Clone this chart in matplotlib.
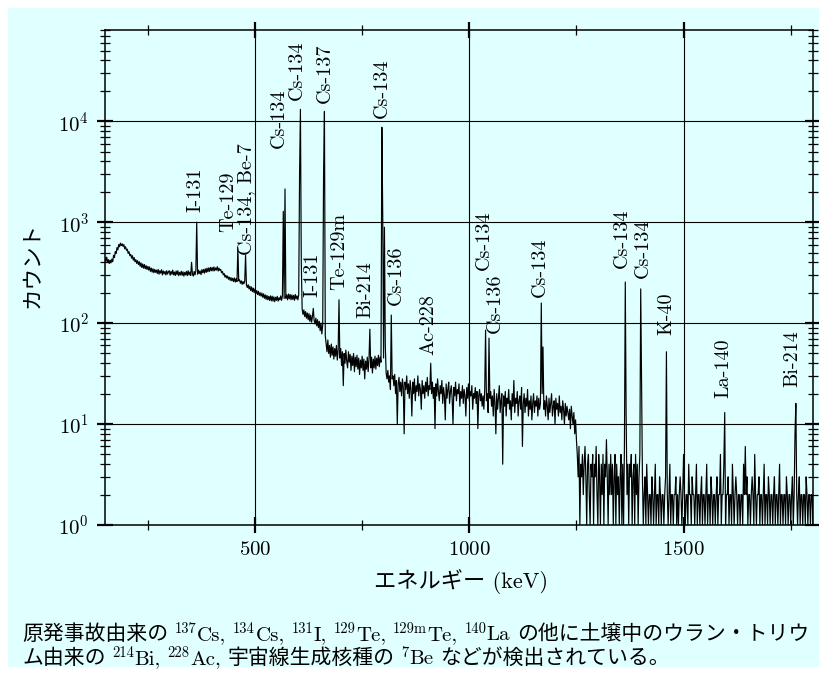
import numpy as np
import matplotlib
matplotlib.use('Agg')
import matplotlib.pyplot as plt
from matplotlib.patches import Rectangle
from matplotlib.ticker import FixedLocator, LogLocator, NullFormatter

plt.rcParams['mathtext.fontset'] = 'cm'
plt.rcParams['axes.formatter.use_mathtext'] = True
plt.rcParams['font.family'] = ['cmr10', 'Noto Sans CJK JP']
plt.rcParams['axes.unicode_minus'] = False

# ---------------- data (counts per 2 keV channel) ----
STEP_KEV = 2
counts_150 = [445, 410, 450, 400, 425, 390, 420, 395, 430, 405,
              470, 445, 510, 490, 560, 530, 600, 570, 620, 585,
              610, 575, 600, 545, 570, 525, 540, 490, 510, 465,
              480, 440, 465, 420, 445, 405, 425, 390, 415, 380,
              405, 365, 395, 355, 385, 350, 380, 345, 370, 340,
              365, 335, 360, 325, 350, 320, 345, 315, 340, 318,
              335, 310, 340, 305, 330, 312, 338, 300, 328, 308,
              325, 300, 330, 305, 322]
counts_300 = [330, 298, 325, 305, 335, 300, 320, 296, 328, 302,
              330, 295, 318, 300, 326, 297, 322, 292, 318, 300,
              325, 295, 330, 300, 320, 296, 400, 305, 292, 325,
              300, 330, 1000, 305, 335, 310, 328, 302, 338, 315,
              340, 312, 345, 318, 350, 322, 352, 325, 356, 330,
              355, 328, 360, 330, 352, 335, 362, 328, 350, 332,
              340, 315, 325, 300, 310, 285, 298, 280, 292, 272,
              285, 265, 282, 262, 278, 258, 280, 255, 275, 258,
              560, 262, 268, 248, 262, 242, 258, 245, 260, 470,
              238, 225, 240, 218, 232, 210, 228, 205, 222, 200,
              218, 196, 210, 192, 206, 188, 200, 185, 198, 180,
              195, 176, 190, 172, 188, 170, 184, 168, 186, 166,
              185, 165, 182, 163, 180, 168, 184, 165, 178, 170,
              186, 168, 185, 1280, 175, 2130, 176, 190, 170, 194,
              174, 192, 170, 190, 172, 188, 168, 192, 174, 186,
              170, 190, 3000]
counts_606 = [13100, 400, 138, 122, 135, 116, 130, 112, 126, 108,
              124, 104, 120, 102, 116, 140, 106, 98, 112, 94,
              108, 90, 104, 84, 100, 78, 96, 3000]
counts_662 = [12500, 75, 62, 52, 68, 50, 60, 46, 62, 48,
              58, 44, 56, 47, 60, 43, 54, 170, 45, 56,
              38, 52, 24, 50, 40, 54, 42, 36, 52, 41,
              49, 34, 47, 38, 50, 33, 46, 37, 48, 35,
              45, 31, 43, 36, 47, 34, 44, 28, 42, 35,
              46, 33, 44, 87, 36, 46, 32, 44, 36, 47,
              35, 45, 38, 48, 37, 46, 41]
counts_796 = [8700, 1200, 45, 890, 60, 32, 28, 34, 26, 30,
              22, 120, 28, 30, 24, 31, 20, 27, 10, 25,
              29, 21, 26, 19, 28, 23, 8, 26, 22, 30,
              20, 25, 18, 27, 22, 12, 26, 20, 28, 17,
              24, 21, 30, 19, 25, 22, 14, 27, 20, 24,
              18, 26, 21, 29, 19, 24, 22, 40, 20, 26,
              18, 23, 9, 25, 19, 28, 21, 17, 24, 20,
              27, 16, 23, 19, 11, 25, 18, 22, 26, 16,
              21, 24, 18, 10, 23, 19, 26, 17, 22, 20,
              25, 15, 21, 18, 24, 16, 22, 19, 12, 23,
              18, 25, 17, 21, 19, 24, 14, 20, 18, 23,
              16, 21, 9, 19, 22, 17, 20, 15]
counts_1032 = [19, 14, 22, 85, 17, 20, 13, 71, 18, 21,
               15, 19, 12, 22, 16, 8, 20, 14, 18, 24,
               13, 17, 20, 4, 19, 15, 21, 12, 18, 16,
               22, 14, 17, 11, 20, 15, 27, 13, 18, 16,
               21, 12, 17, 19, 14, 23, 6, 16, 20, 13,
               18, 15, 22, 12, 17, 14, 19, 11, 16, 20,
               13, 17, 15, 19, 12, 18, 14, 16, 158, 20,
               58, 14, 17, 12, 19, 15, 11, 18, 13, 16,
               20, 12, 15, 17, 10, 18, 14, 16, 12, 19,
               13, 15, 11, 17, 14, 10, 16, 12, 15, 13,
               11, 14, 9, 15, 12, 10, 13, 8, 11, 7]
counts_1252 = [5, 3, 6, 1, 4, 3, 5, 2, 4, 6,
               3, 1, 4, 5, 2, 1, 4, 3, 5, 1,
               4, 3, 6, 2, 1, 5, 3, 1, 4, 2,
               5, 1, 4, 3, 7, 3, 1, 4, 2, 5,
               2, 4, 1, 3, 5, 1, 4, 2, 3, 1,
               3, 5, 1, 4, 1, 6, 255, 12, 2, 4,
               1, 4, 3, 5, 1, 3, 4, 1, 5, 2,
               4, 1, 3, 5, 218, 23, 3, 1, 2, 3,
               1, 4]
counts_1416 = [2, 1, 2, 2, 1, 3, 2, 1, 2, 4,
               1, 2, 2, 1, 3, 2, 1, 2, 2, 1,
               2, 3, 52, 2, 1, 2, 4, 1, 2, 2,
               1, 2, 2, 3, 1, 2, 1, 2, 3, 2,
               1, 2, 5, 2, 1, 2, 2, 1, 4, 2,
               2, 1, 3, 2, 2, 1, 2, 4, 1, 2,
               2, 1, 2, 3, 1, 2, 2, 1, 2, 4,
               1, 2, 2, 1, 3, 2, 1, 2, 2, 1,
               2, 3, 1, 2, 2, 5, 1, 2, 2, 4,
               13, 1, 2, 2, 3, 1, 2, 2, 1, 4,
               2, 1, 2, 3, 2, 1, 2, 2, 1, 2,
               2, 1, 4, 2, 6, 2, 3, 1, 2, 2,
               1, 2, 3, 2, 1, 5, 2, 1, 2, 2,
               3, 1, 2, 2, 1, 2, 4, 1, 2, 2,
               1, 3, 2, 1, 2, 2, 1, 2, 3, 1,
               2, 2, 1, 2, 4, 1, 2, 2, 1, 2,
               2, 1, 3, 2, 1, 2, 2, 1, 2, 3,
               1, 2, 8, 16, 2, 1, 2, 3, 1, 2,
               2, 1, 2, 2, 1, 3, 2, 1, 2, 2,
               1, 2, 2, 1]
segment_starts = [150, 300, 606, 662, 796, 1032, 1252, 1416]
segment_counts = [counts_150, counts_300, counts_606, counts_662,
                  counts_796, counts_1032, counts_1252, counts_1416]

label_text = ["I-131", "Te-129", "Cs-134, Be-7", "Cs-134", "Cs-134", "Cs-137",
              "I-131", "Te-129m", "Bi-214", "Cs-134", "Cs-136", "Ac-228",
              "Cs-134", "Cs-136", "Cs-134", "Cs-134", "Cs-134", "K-40",
              "La-140", "Bi-214"]
label_energy = [362, 437, 479, 556, 598, 663, 635, 696, 757, 796, 829, 904,
                1034, 1060, 1165, 1356, 1405, 1461, 1594, 1753]
label_count = [1250, 795, 470, 5400, 16200, 15000, 180, 211, 112, 10700, 150,
               48, 334, 80, 181, 349, 279, 76, 18.1, 23.3]

x_major = [500, 1000, 1500]
x_minor = [250, 750, 1250, 1750]
x_label = "エネルギー (keV)"
y_label = "カウント"

caption_line1 = [("原発事故由来の", "n"), ("", "gap"), ("137", "s"), ("Cs,", "n"), ("", "gap"),
                 ("134", "s"), ("Cs,", "n"), ("", "gap"), ("131", "s"), ("I,", "n"), ("", "gap"),
                 ("129", "s"), ("Te,", "n"), ("", "gap"), ("129m", "s"), ("Te,", "n"), ("", "gap"),
                 ("140", "s"), ("La", "n"), ("", "gap"), ("の他に土壌中のウラン・トリウ", "n")]
caption_line2 = [("ム由来の", "n"), ("", "gap"), ("214", "s"), ("Bi,", "n"), ("", "gap"),
                 ("228", "s"), ("Ac,", "n"), ("", "gap"), ("宇宙線生成核種の", "n"), ("", "gap"),
                 ("7", "s"), ("Be", "n"), ("", "gap"), ("などが検出されている。", "n")]

# ---------------- figure ----------------
W, H = 820, 675
BG = '#e0ffff'
fig = plt.figure(figsize=(W / 100, H / 100), dpi=100, facecolor='white')
fig.patches.append(Rectangle((8 / W, 1 - 667 / H), 1 - 8 / W, (667 - 8) / H,
                             transform=fig.transFigure, facecolor=BG,
                             edgecolor='none', zorder=-10))

L, R, T, B = 105, 813, 30, 525
ax = fig.add_axes([L / W, 1 - B / H, (R - L) / W, (B - T) / H])
ax.set_facecolor(BG)

energy = np.concatenate([s + STEP_KEV * np.arange(len(c))
                         for s, c in zip(segment_starts, segment_counts)])
counts = np.concatenate([np.asarray(c, dtype=float) for c in segment_counts])

ax.plot(energy, counts, color='black', lw=0.85, zorder=3)
ax.set_yscale('log')
ax.set_xlim(150, 1802)
ax.set_ylim(1, 8e4)

ax.xaxis.set_major_locator(FixedLocator(x_major))
ax.xaxis.set_minor_locator(FixedLocator(x_minor))
ax.yaxis.set_major_locator(LogLocator(base=10, numticks=10))
ax.yaxis.set_minor_locator(LogLocator(base=10, subs=np.arange(2, 10), numticks=20))
ax.yaxis.set_minor_formatter(NullFormatter())

ax.tick_params(which='major', direction='inout', length=11, width=1.6,
               top=True, right=True, labelsize=15, pad=6, colors='black')
ax.tick_params(which='minor', direction='inout', length=7, width=0.9,
               top=True, right=True)
for sp in ax.spines.values():
    sp.set_linewidth(1.1)
ax.grid(True, which='major', color='black', lw=0.8, zorder=1)

for txt, e, c in zip(label_text, label_energy, label_count):
    ax.text(e, c, txt, rotation=90, ha='center', va='bottom', fontsize=14.5,
            family=['cmr10', 'Noto Sans CJK JP'], zorder=4)

fig.text(33 / W, 1 - 265 / H, y_label, rotation=90, ha='center', va='center',
         fontsize=15.5, family=['Noto Sans CJK JP'])
fig.text(461 / W, 1 - 582 / H, x_label, ha='center', va='center',
         fontsize=16, family=['cmr10', 'Noto Sans CJK JP'])

renderer = fig.canvas.get_renderer()


def rich_line(parts, x0, base_y, size):
    x = x0
    for txt, kind in parts:
        if kind == 'gap':
            x += size * 0.30 * 100 / 72
            continue
        sup = kind == 's'
        fs = size * 0.7 if sup else size
        y = base_y - (7 if sup else 0)
        t = fig.text(x / W, 1 - y / H, txt, fontsize=fs, ha='left', va='baseline',
                     family=['cmr10', 'Noto Sans CJK JP'])
        bb = t.get_window_extent(renderer)
        x = bb.x1 + 0.5


rich_line(caption_line1, 22, 640, 15)
rich_line(caption_line2, 22, 664, 15)

fig.savefig('out.png', dpi=100, facecolor='white')
